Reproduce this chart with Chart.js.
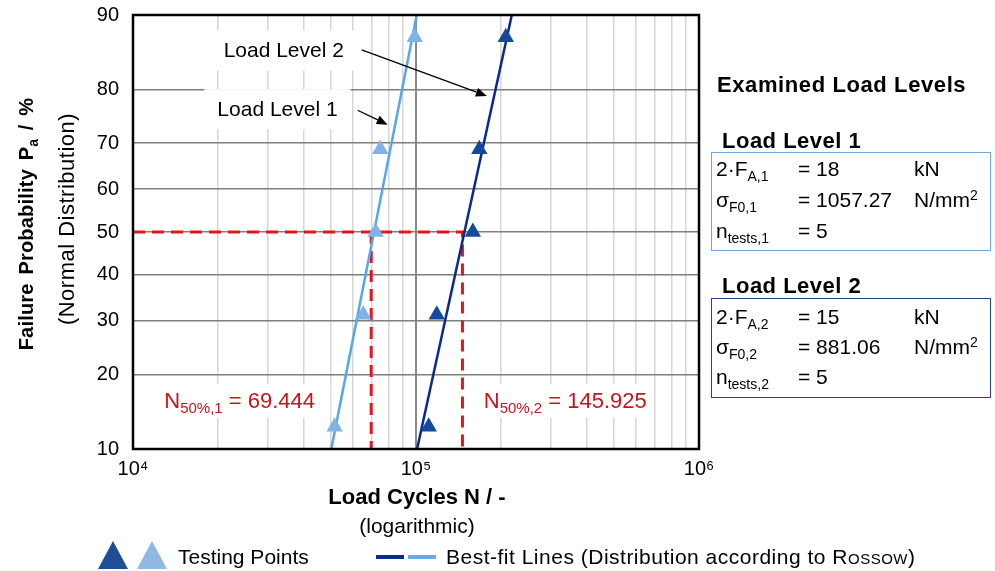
<!DOCTYPE html>
<html><head><meta charset="utf-8">
<script src="https://cdn.jsdelivr.net/npm/chart.js@4.4.0/dist/chart.umd.min.js"></script>
<style>
html,body{margin:0;padding:0;background:#fff;}
#wrap{position:relative;width:995px;height:571px;overflow:hidden;font-family:"Liberation Sans",Arial,sans-serif;color:#000;}
#wrap canvas{position:absolute;left:0;top:0;}
.abs{position:absolute;white-space:nowrap;line-height:1;}
.rot{transform:translate(-50%,-50%) rotate(-90deg);}
.ctr{transform:translate(-50%,-50%);}
.vc{transform:translateY(-50%);}
sub,sup{font-size:14px;line-height:0;letter-spacing:0;}
sub{vertical-align:-5px;}
sup{vertical-align:7px;}
.box{position:absolute;box-sizing:border-box;}
.row{position:absolute;font-size:21px;white-space:nowrap;line-height:1;transform:translateY(-50%);}
.tri{position:absolute;width:0;height:0;border-left:15px solid transparent;border-right:15px solid transparent;border-bottom:28px solid;}
.sc{font-variant:small-caps;}
</style></head><body>
<div id="wrap">
<canvas id="c" width="995" height="571"></canvas>

<div class="abs rot" style="left:26px;top:224px;font-size:20px;font-weight:bold;word-spacing:3px;letter-spacing:0.2px;">Failure Probability P<sub>a</sub> / %</div>
<div class="abs rot" style="left:67px;top:219px;font-size:22px;letter-spacing:0.5px;">(Normal Distribution)</div>

<div class="abs ctr" style="left:417px;top:497px;font-size:22px;font-weight:bold;">Load Cycles N / -</div>
<div class="abs ctr" style="left:417px;top:525px;font-size:21px;">(logarithmic)</div>

<div class="tri" style="left:98px;top:541px;border-bottom-color:#1f4e96;"></div>
<div class="tri" style="left:137px;top:541px;border-bottom-color:#8fb8e3;"></div>
<div class="abs vc" style="left:178px;top:556px;font-size:21px;">Testing Points</div>
<div class="abs" style="left:376px;top:555px;width:28px;height:4px;background:#0a2a8c;"></div>
<div class="abs" style="left:408px;top:555px;width:28px;height:4px;background:#6aaae6;"></div>
<div class="abs vc" style="left:446px;top:556px;font-size:21px;letter-spacing:0.5px;">Best-fit Lines (Distribution according to <span class="sc">Rossow</span>)</div>

<div class="abs vc" style="left:717px;top:85px;font-size:22px;font-weight:bold;letter-spacing:0.6px;">Examined Load Levels</div>

<div class="abs vc" style="left:722px;top:141px;font-size:22px;font-weight:bold;letter-spacing:0.5px;">Load Level 1</div>
<div class="box" style="left:711px;top:152px;width:280px;height:99px;border:1.5px solid #6fa6dc;"></div>
<div class="row" style="left:716px;top:168px;">2·F<sub>A,1</sub></div>
<div class="row" style="left:798px;top:168px;">= 18</div>
<div class="row" style="left:914px;top:168px;">kN</div>
<div class="row" style="left:716px;top:199px;">σ<sub>F0,1</sub></div>
<div class="row" style="left:798px;top:199px;">= 1057.27</div>
<div class="row" style="left:914px;top:199px;">N/mm<sup>2</sup></div>
<div class="row" style="left:716px;top:230px;">n<sub>tests,1</sub></div>
<div class="row" style="left:798px;top:230px;">= 5</div>

<div class="abs vc" style="left:722px;top:286px;font-size:22px;font-weight:bold;letter-spacing:0.5px;">Load Level 2</div>
<div class="box" style="left:711px;top:298px;width:280px;height:100px;border:1.5px solid #2b3f94;"></div>
<div class="row" style="left:716px;top:316px;">2·F<sub>A,2</sub></div>
<div class="row" style="left:798px;top:316px;">= 15</div>
<div class="row" style="left:914px;top:316px;">kN</div>
<div class="row" style="left:716px;top:346px;">σ<sub>F0,2</sub></div>
<div class="row" style="left:798px;top:346px;">= 881.06</div>
<div class="row" style="left:914px;top:346px;">N/mm<sup>2</sup></div>
<div class="row" style="left:716px;top:376px;">n<sub>tests,2</sub></div>
<div class="row" style="left:798px;top:376px;">= 5</div>
</div>

<script>
// ---------- data ----------
const probLevels = [12.5, 31.25, 50, 68.75, 87.5];          // failure probability (Rossow) in %
const cyclesLevel1 = [51600, 65100, 72000, 74800, 99000];   // load level 1 test points
const cyclesLevel2 = [110900, 118400, 158800, 167400, 207700]; // load level 2 test points
const fit1N = [50200, 100600];   // best-fit line level 1 (at P = 10 % and 90 %)
const fit2N = [100900, 218000];  // best-fit line level 2
const fitP = [10, 90];
const n50 = [69444, 145925];     // N at 50 %
const n50Labels = ['69.444', '145.925'];
const yTicks = [10, 20, 30, 40, 50, 60, 70, 80, 90];
const xTicks = [1e4,2e4,3e4,4e4,5e4,6e4,7e4,8e4,9e4,1e5,2e5,3e5,4e5,5e5,6e5,7e5,8e5,9e5,1e6];
const xTickLabels = {10000:'10⁴', 100000:'10⁵', 1000000:'10⁶'};
// annotation texts (anchored in data coordinates)
const annText = ['Load Level 2', 'Load Level 1'];
const annN = [34100, 32400];
const annP = [85.8, 76.6];
const arrowFromN = [64300, 62200], arrowFromP = [85.9, 76.4];
const arrowToN = [178000, 79400], arrowToP = [78.9, 73.7];
const n50LabelN = [12900, 173600];
const n50LabelP = [16.1, 16.1];

// ---------- probit helpers ----------
function qnorm(p){
 const a=[-3.969683028665376e+01,2.209460984245205e+02,-2.759285104469687e+02,1.383577518672690e+02,-3.066479806614716e+01,2.506628277459239e+00];
 const b=[-5.447609879822406e+01,1.615858368580409e+02,-1.556989798598866e+02,6.680131188771972e+01,-1.328068155288572e+01];
 const c=[-7.784894002430293e-03,-3.223964580411365e-01,-2.400758277161838e+00,-2.549671627022749e+00,4.374664141464968e+00,2.938163982698783e+00];
 const d=[7.784695709041462e-03,3.224671290700398e-01,2.445134137142996e+00,3.754408661907416e+00];
 const pl=0.02425, ph=1-pl; let q,r;
 if(p<pl){q=Math.sqrt(-2*Math.log(p));return (((((c[0]*q+c[1])*q+c[2])*q+c[3])*q+c[4])*q+c[5])/((((d[0]*q+d[1])*q+d[2])*q+d[3])*q+1);}
 if(p<=ph){q=p-0.5;r=q*q;return (((((a[0]*r+a[1])*r+a[2])*r+a[3])*r+a[4])*r+a[5])*q/(((((b[0]*r+b[1])*r+b[2])*r+b[3])*r+b[4])*r+1);}
 q=Math.sqrt(-2*Math.log(1-p));return -(((((c[0]*q+c[1])*q+c[2])*q+c[3])*q+c[4])*q+c[5])/((((d[0]*q+d[1])*q+d[2])*q+d[3])*q+1);
}
function pnorm(z){
 const t=1/(1+0.2316419*Math.abs(z));
 const y=0.3989423*Math.exp(-z*z/2)*t*(0.3193815+t*(-0.3565638+t*(1.781478+t*(-1.821256+t*1.330274))));
 return z>0?1-y:y;
}
class ProbitScale extends Chart.Scale {
  static id = 'probit';
  static defaults = {};
  parse(raw){ const v = +raw; return isFinite(v) ? v : null; }
  determineDataLimits(){ this.min = this.options.min; this.max = this.options.max; }
  buildTicks(){ return yTicks.map(v => ({value: v})); }
  getLabelForValue(v){ return String(v); }
  configure(){ super.configure(); this._z0 = qnorm(this.min/100); this._z1 = qnorm(this.max/100); }
  getPixelForValue(v){ return this.getPixelForDecimal((qnorm(v/100) - this._z0) / (this._z1 - this._z0)); }
  getValueForPixel(px){ const d = this.getDecimalForPixel(px); return 100*pnorm(this._z0 + d*(this._z1 - this._z0)); }
}
Chart.register(ProbitScale);

const FONT = '"Liberation Sans", Arial, sans-serif';
Chart.defaults.font.family = FONT;
Chart.defaults.color = '#000';

const pts = (xs, ys) => xs.map((x, i) => ({x, y: ys[i]}));

const annotPlugin = {
  id: 'annot',
  beforeDatasetsDraw(chart){
    const {ctx, scales:{x, y}} = chart;
    ctx.save();
    ctx.fillStyle = '#fff';
    ctx.font = '21px ' + FONT;
    annText.forEach((t, i) => {
      const cx = x.getPixelForValue(annN[i]), cy = y.getPixelForValue(annP[i]);
      const w = ctx.measureText(t).width;
      ctx.fillRect(cx - w/2 - 13, cy - 20, w + 26, 40);
    });
    n50Labels.forEach((t, i) => {
      const lx = x.getPixelForValue(n50LabelN[i]), ly = y.getPixelForValue(n50LabelP[i]);
      ctx.fillRect(lx - 6, ly - 16, 172, 34);
    });
    ctx.restore();
  },
  afterDatasetsDraw(chart){
    const {ctx, chartArea:ca, scales:{x, y}} = chart;
    ctx.save();
    // frame
    ctx.strokeStyle = '#000'; ctx.lineWidth = 2.5;
    ctx.strokeRect(ca.left, ca.top, ca.right - ca.left, ca.bottom - ca.top);
    // annotation texts
    ctx.fillStyle = '#000'; ctx.font = '21px ' + FONT;
    ctx.textAlign = 'center'; ctx.textBaseline = 'middle';
    annText.forEach((t, i) => {
      ctx.fillText(t, x.getPixelForValue(annN[i]), y.getPixelForValue(annP[i]) + 1);
    });
    // arrows
    ctx.strokeStyle = '#000'; ctx.lineWidth = 1.3;
    arrowFromN.forEach((_, i) => {
      const x0 = x.getPixelForValue(arrowFromN[i]), y0 = y.getPixelForValue(arrowFromP[i]);
      const x1 = x.getPixelForValue(arrowToN[i]), y1 = y.getPixelForValue(arrowToP[i]);
      const ang = Math.atan2(y1 - y0, x1 - x0), L = 11, W = 4.5;
      const bx = x1 - L*Math.cos(ang), by = y1 - L*Math.sin(ang);
      ctx.beginPath(); ctx.moveTo(x0, y0); ctx.lineTo(bx, by); ctx.stroke();
      ctx.beginPath(); ctx.moveTo(x1, y1);
      ctx.lineTo(bx + W*Math.sin(ang), by - W*Math.cos(ang));
      ctx.lineTo(bx - W*Math.sin(ang), by + W*Math.cos(ang));
      ctx.closePath(); ctx.fill();
    });
    // N50 labels
    ctx.fillStyle = '#c8141e'; ctx.textAlign = 'left'; ctx.textBaseline = 'alphabetic';
    n50Labels.forEach((t, i) => {
      let lx = x.getPixelForValue(n50LabelN[i]);
      const ly = y.getPixelForValue(n50LabelP[i]) + 8;
      ctx.font = '22px ' + FONT; ctx.fillText('N', lx, ly); lx += ctx.measureText('N').width;
      ctx.font = '15px ' + FONT; const sub = '50%,' + (i + 1); ctx.fillText(sub, lx, ly + 5); lx += ctx.measureText(sub).width;
      ctx.font = '22px ' + FONT; ctx.fillText(' = ' + t, lx, ly);
    });
    ctx.restore();
  }
};

new Chart(document.getElementById('c'), {
  type: 'scatter',
  data: {
    datasets: [
      {label:'Level 1 points', data: pts(cyclesLevel1, probLevels), pointStyle:'triangle', pointRadius:9.5, pointHoverRadius:9.5,
       backgroundColor:'#7fb2e6', borderColor:'#7fb2e6', borderWidth:0, order:0},
      {label:'Level 2 points', data: pts(cyclesLevel2, probLevels), pointStyle:'triangle', pointRadius:9.5, pointHoverRadius:9.5,
       backgroundColor:'#134a9c', borderColor:'#134a9c', borderWidth:0, order:0},
      {label:'Fit 1', data: pts(fit1N, fitP), showLine:true, pointRadius:0, borderColor:'#5aa5e8', borderWidth:2.5, order:1},
      {label:'Fit 2', data: pts(fit2N, fitP), showLine:true, pointRadius:0, borderColor:'#0a2a8c', borderWidth:2.5, order:1},
      {label:'N50 guide', data: [{x:1e4, y:50}, {x:n50[1], y:50}, {x:n50[1], y:10}], showLine:true, pointRadius:0,
       borderColor:'#e3161e', borderWidth:3, borderDash:[12,7], order:2},
      {label:'N50 guide 1', data: [{x:n50[0], y:50}, {x:n50[0], y:10}], showLine:true, pointRadius:0,
       borderColor:'#e3161e', borderWidth:3, borderDash:[12,7], order:2}
    ]
  },
  options: {
    responsive:false, animation:false, devicePixelRatio:1,
    layout:{padding:{left:0, top:15, right:296, bottom:0}},
    plugins:{legend:{display:false}, tooltip:{enabled:false}},
    scales:{
      x:{type:'logarithmic', min:1e4, max:1e6, position:'bottom',
         afterBuildTicks(s){ s.ticks = xTicks.map(v => ({value:v})); },
         afterFit(s){ s.height = 571 - 449; },
         ticks:{autoSkip:false, maxRotation:0, padding:2, font:{size:20}, color:'#000',
                callback:(v) => xTickLabels[v] || ''},
         grid:{drawTicks:true, tickLength:6, tickColor:'rgba(0,0,0,0)',
               color:(c) => (c.tick && c.tick.value === 1e5) ? '#8a8a8a' : '#d6d6d6',
               lineWidth:(c) => (c.tick && c.tick.value === 1e5) ? 2 : 1.5},
         border:{display:false}},
      y:{type:'probit', min:10, max:90, position:'left',
         afterFit(s){ s.width = 133; },
         ticks:{padding:2, font:{size:20}, color:'#000'},
         grid:{drawTicks:true, tickLength:12, tickColor:'rgba(0,0,0,0)', color:'#7f7f7f', lineWidth:1.5},
         border:{display:false}}
    }
  },
  plugins:[annotPlugin]
});
</script>
</body></html>
